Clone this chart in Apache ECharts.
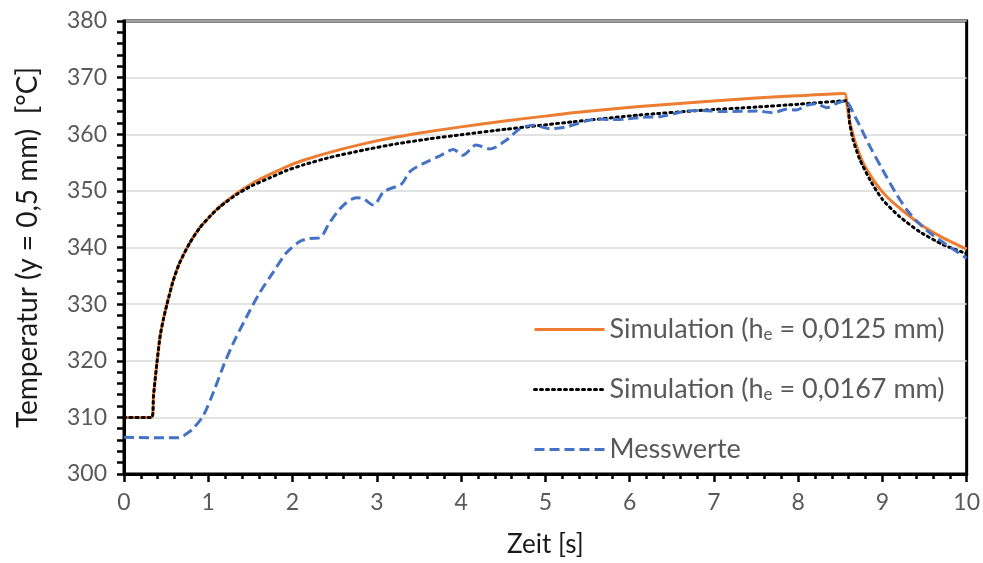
<!DOCTYPE html>
<html>
<head>
<meta charset="utf-8">
<script src="https://cdn.jsdelivr.net/npm/echarts@6/dist/echarts.min.js"></script>
<style>
  html, body { margin: 0; padding: 0; background: #fff; }
  #chart { width: 983px; height: 563px; }
</style>
</head>
<body>
<div id="chart"></div>
<script>
// Simulation with h_e = 0,0125 mm
const simAX = [0, 0.33, 0.35, 0.39, 0.43, 0.47, 0.51, 0.585, 0.66, 0.78, 0.9, 1.02, 1.14, 1.34, 1.53, 1.73, 1.93, 2.13, 2.44, 2.84, 3.23, 3.63, 4.0, 4.54, 5.0, 5.33, 6.12, 6.83, 7.5, 8.0, 8.55, 8.58, 8.61, 8.65, 8.69, 8.77, 8.89, 9.05, 9.25, 9.48, 9.72, 10];
const simAY = [310, 310, 313.8, 319.5, 324.5, 327.5, 330, 334.2, 337.3, 340.8, 343.5, 345.5, 347.3, 349.6, 351.4, 352.9, 354.3, 355.4, 356.8, 358.3, 359.5, 360.5, 361.3, 362.4, 363.2, 363.8, 364.9, 365.7, 366.4, 366.8, 367.2, 365.2, 362.4, 360.0, 358.0, 355.0, 352.0, 349.0, 346.4, 343.8, 341.7, 339.7];

// Simulation with h_e = 0,0167 mm
const simBX = [0, 0.33, 0.35, 0.39, 0.43, 0.47, 0.51, 0.585, 0.66, 0.78, 0.9, 1.02, 1.14, 1.34, 1.53, 1.73, 1.93, 2.13, 2.44, 2.84, 3.23, 3.63, 4.0, 4.54, 5.33, 6.12, 6.83, 7.5, 8.0, 8.57, 8.61, 8.65, 8.73, 8.85, 9.0, 9.2, 9.44, 9.72, 10];
const simBY = [310, 310, 313.8, 319.5, 324.5, 327.5, 330, 334.2, 337.3, 340.8, 343.5, 345.5, 347.2, 349.4, 351.0, 352.3, 353.6, 354.6, 355.9, 357.2, 358.3, 359.2, 359.9, 360.9, 362.2, 363.4, 364.2, 364.8, 365.3, 365.9, 362.0, 359.1, 355.6, 352.0, 348.5, 345.5, 342.8, 340.5, 338.9];

// Measured values
const measX = [0, 0.3, 0.66, 0.75, 0.82, 0.94, 1.06, 1.18, 1.30, 1.46, 1.61, 1.77, 1.93, 2.09, 2.2, 2.32, 2.44, 2.60, 2.76, 2.84, 2.96, 3.08, 3.23, 3.30, 3.40, 3.55, 3.75, 3.91, 4.02, 4.18, 4.34, 4.54, 4.70, 4.86, 5.05, 5.25, 5.45, 5.61, 5.77, 5.96, 6.16, 6.36, 6.52, 6.67, 6.83, 7.11, 7.51, 7.70, 7.86, 7.98, 8.10, 8.21, 8.34, 8.45, 8.55, 8.69, 8.85, 9.0, 9.16, 9.32, 9.52, 9.76, 10];
const measY = [306.5, 306.4, 306.4, 307.2, 308.0, 310.3, 314.4, 319.1, 323.2, 327.9, 332.0, 335.6, 339.1, 341.1, 341.6, 341.7, 344.4, 347.4, 348.8, 348.6, 347.5, 349.8, 350.8, 351.3, 353.5, 354.8, 356.2, 357.3, 356.3, 358.1, 357.4, 359.0, 361.0, 361.6, 361.0, 361.3, 362.2, 362.7, 362.6, 362.7, 363.0, 363.1, 363.6, 364.1, 364.2, 364.0, 364.1, 363.8, 364.4, 364.3, 365.1, 365.4, 364.7, 365.4, 365.9, 362.7, 357.9, 353.8, 349.6, 346.1, 343.1, 340.5, 338.1];

const seriesNames = ['Simulation (he = 0,0125 mm)', 'Simulation (he = 0,0167 mm)', 'Messwerte'];
const legendLabels = {
  'Simulation (he = 0,0125 mm)': 'Simulation (h{sub|e} = 0,0125 mm)',
  'Simulation (he = 0,0167 mm)': 'Simulation (h{sub|e} = 0,0167 mm)',
  'Messwerte': 'Messwerte'
};

const xTicks = { min: 0, max: 10, interval: 1 };
const yTicks = { min: 300, max: 380, interval: 10 };

const zip = (xs, ys) => xs.map((x, i) => [x, ys[i]]);

const FONT = "Lato, 'Open Sans', sans-serif";
const chart = echarts.init(document.getElementById('chart'), null, { renderer: 'canvas' });

chart.setOption({
  animation: false,
  backgroundColor: '#ffffff',
  grid: {
    left: 124, right: 16, top: 21, bottom: 87,
    show: true, borderColor: '#000', borderWidth: 3, backgroundColor: 'transparent'
  },
  legend: {
    orient: 'vertical',
    left: 528, top: 311,
    itemWidth: 70, itemHeight: 27, itemGap: 33,
    data: seriesNames,
    formatter: n => legendLabels[n],
    itemStyle: { opacity: 0 },
    lineStyle: { width: 3 },
    textStyle: {
      fontFamily: FONT, fontSize: 27, color: '#595959',
      rich: {
        sub: { fontFamily: FONT, fontSize: 17, color: '#595959', padding: [10, 0, 0, 0] }
      }
    }
  },
  xAxis: {
    type: 'value',
    min: xTicks.min, max: xTicks.max, interval: xTicks.interval,
    name: 'Zeit [s]', nameLocation: 'middle', nameGap: 58,
    nameTextStyle: { fontFamily: FONT, fontSize: 26, color: '#1a1a1a' },
    axisLine: { show: true, lineStyle: { color: '#000', width: 3 } },
    axisTick: { show: true, length: 8, lineStyle: { color: '#000', width: 2.5 } },
    minorTick: { show: true, splitNumber: 5, length: 5, lineStyle: { color: '#000', width: 2.5 } },
    axisLabel: { fontFamily: FONT, fontSize: 23, color: '#595959', margin: 17 },
    splitLine: { show: false }
  },
  yAxis: {
    type: 'value',
    min: yTicks.min, max: yTicks.max, interval: yTicks.interval,
    name: 'Temperatur (y = 0,5 mm)  [°C]', nameLocation: 'middle', nameGap: 82,
    nameTextStyle: { fontFamily: FONT, fontSize: 28, color: '#1a1a1a' },
    axisLine: { show: true, lineStyle: { color: '#000', width: 3 } },
    axisTick: { show: true, length: 7, lineStyle: { color: '#000', width: 2.5 } },
    minorTick: { show: true, splitNumber: 5, length: 7, lineStyle: { color: '#000', width: 2.5 } },
    axisLabel: { fontFamily: FONT, fontSize: 23, color: '#595959', margin: 17 },
    splitLine: { show: true, lineStyle: { color: '#d9d9d9', width: 1.5 } }
  },
  series: [
    {
      name: seriesNames[0], type: 'line', symbol: 'none', smooth: 0.2,
      data: zip(simAX, simAY),
      lineStyle: { color: '#ED7D31', width: 3 },
      itemStyle: { color: '#ED7D31' }, z: 2
    },
    {
      name: seriesNames[1], type: 'line', symbol: 'none', smooth: 0.2,
      data: zip(simBX, simBY),
      lineStyle: { color: '#000000', width: 3, type: [2, 4], cap: 'round' },
      itemStyle: { color: '#000000' }, z: 3
    },
    {
      name: seriesNames[2], type: 'line', symbol: 'none', smooth: 0.3,
      data: zip(measX, measY),
      lineStyle: { color: '#4472C4', width: 3, type: [10, 5] },
      itemStyle: { color: '#4472C4' }, z: 4
    }
  ]
});
</script>
</body>
</html>
